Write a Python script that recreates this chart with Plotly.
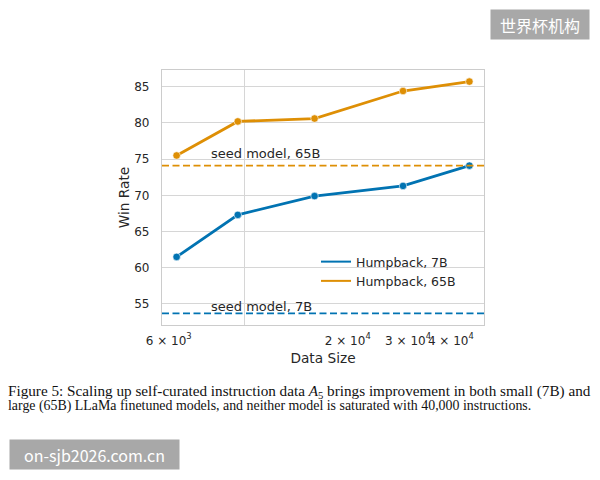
import numpy as np
import plotly.graph_objects as go

# ---- data ----
data_size = [6330, 9550, 16000, 29000, 45300]
win_7b = [61.5, 67.3, 69.9, 71.3, 74.1]
win_65b = [75.5, 80.2, 80.6, 84.4, 85.7]
seed_7b = 53.7
seed_65b = 74.1
series_names = ["Humpback, 7B", "Humpback, 65B"]
seed_labels = ["seed model, 7B", "seed model, 65B"]
label_x = 8000
x_tickvals = [6000, 20000, 30000, 40000]
x_ticktext = ["6 × 10<sup>3</sup>", "2 × 10<sup>4</sup>", "3 × 10<sup>4</sup>", "4 × 10<sup>4</sup>"]
x_major_grid = [10000]
y_tickvals = [55, 60, 65, 70, 75, 80, 85]
caption_lines = [
    "Figure 5: Scaling up self-curated instruction data <i>A</i><sub>5</sub> brings improvement in both small (7B) and",
    "large (65B) LLaMa finetuned models, and neither model is saturated with 40,000 instructions.",
]
watermark_top = "世界杯机构"
watermark_bottom = "on-sjb2026.com.cn"

BLUE = "#0173b2"
ORANGE = "#de8f05"
TXT = "#262626"
GRID = "#d6d6d6"
FONT = "DejaVu Sans"

# axis ranges like matplotlib's 5% margins
lx = np.log10(data_size)
xspan = lx.max() - lx.min()
x_range = [lx.min() - 0.05 * xspan, lx.max() + 0.05 * xspan]
all_y = win_7b + win_65b + [seed_7b, seed_65b]
yspan = max(all_y) - min(all_y)
y_range = [min(all_y) - 0.05 * yspan, max(all_y) + 0.05 * yspan]

fig = go.Figure()

for name, ys, col in [(series_names[0], win_7b, BLUE), (series_names[1], win_65b, ORANGE)]:
    fig.add_trace(go.Scatter(
        x=data_size, y=ys, mode="lines+markers", showlegend=False,
        line=dict(color=col, width=2.8),
        marker=dict(symbol="circle", size=7.5, color=col, line=dict(color="white", width=0.6)),
    ))
    # legend entry drawn as plain line
    fig.add_trace(go.Scatter(
        x=[None], y=[None], mode="lines", name=name,
        line=dict(color=col, width=2),
    ))

# seed model reference lines
for val, col in [(seed_65b, ORANGE), (seed_7b, BLUE)]:
    fig.add_hline(y=val, line=dict(color=col, width=1.8, dash="7px,3.5px"), layer="above")

fig.add_annotation(x=np.log10(label_x), y=seed_65b, xref="x", yref="y", text=seed_labels[1],
                   showarrow=False, xanchor="left", yanchor="bottom", yshift=3, xshift=-2,
                   font=dict(family=FONT, size=13, color=TXT))
fig.add_annotation(x=np.log10(label_x), y=seed_7b, xref="x", yref="y", text=seed_labels[0],
                   showarrow=False, xanchor="left", yanchor="bottom", yshift=-3, xshift=-2,
                   font=dict(family=FONT, size=13, color=TXT))

# caption
L, R, T, B = 162, 116, 70, 155
PW, PH = 600 - L - R, 480 - T - B

def px2paper(px, py):
    return (px - L) / PW, (480 - B - py) / PH

for i, line in enumerate(caption_lines):
    cx, cy = px2paper(6, [391, 406][i])
    fig.add_annotation(x=cx, y=cy, xref="paper", yref="paper", text=line, showarrow=False,
                       xanchor="left", yanchor="middle",
                       font=dict(family="Liberation Serif", size=[15.2, 13.9][i], color="#111111"))

# watermarks
wx, wy = px2paper(540, 24.7)
fig.add_annotation(x=wx, y=wy, xref="paper", yref="paper", text=watermark_top, showarrow=False,
                   xanchor="center", yanchor="middle",
                   width=98, height=29, bgcolor="#a8a8a8", borderpad=0,
                   font=dict(family="Noto Sans CJK SC", size=16, color="white"))
wx, wy = px2paper(94.5, 454.7)
fig.add_annotation(x=wx, y=wy, xref="paper", yref="paper", text=watermark_bottom, showarrow=False,
                   xanchor="center", yanchor="middle",
                   width=169, height=29, bgcolor="#a8a8a8", borderpad=0,
                   font=dict(family="Noto Sans CJK SC", size=16, color="white"))

lgx, lgy = px2paper(316, 247)
fig.update_layout(
    width=600, height=480,
    margin=dict(l=L, r=R, t=T, b=B),
    paper_bgcolor="white", plot_bgcolor="white",
    font=dict(family=FONT, color=TXT),
    showlegend=True,
    legend=dict(x=lgx, y=lgy, xanchor="left", yanchor="top", bgcolor="rgba(0,0,0,0)",
                font=dict(family=FONT, size=12.5, color=TXT), tracegroupgap=0),
    xaxis=dict(
        type="log", range=x_range, tickmode="array", tickvals=x_tickvals, ticktext=x_ticktext,
        showgrid=False, zeroline=False, showline=True, mirror=True, linecolor="#cccccc", linewidth=1.2,
        tickfont=dict(family=FONT, size=12, color=TXT), ticks="", ticklabelstandoff=4, tickangle=0,
        minor=dict(tickmode="array", tickvals=x_major_grid, showgrid=True, gridcolor=GRID, gridwidth=1, ticks=""),
        title=dict(text="Data Size", font=dict(family=FONT, size=13.7, color=TXT), standoff=6),
    ),
    yaxis=dict(
        range=y_range, tickmode="array", tickvals=y_tickvals,
        showgrid=True, gridcolor=GRID, gridwidth=1, zeroline=False,
        showline=True, mirror=True, linecolor="#cccccc", linewidth=1.2,
        tickfont=dict(family=FONT, size=12, color=TXT), ticks="", ticklabelstandoff=9,
        title=dict(text="Win Rate", font=dict(family=FONT, size=13.7, color=TXT), standoff=1),
    ),
)

fig.write_html("out.html")
